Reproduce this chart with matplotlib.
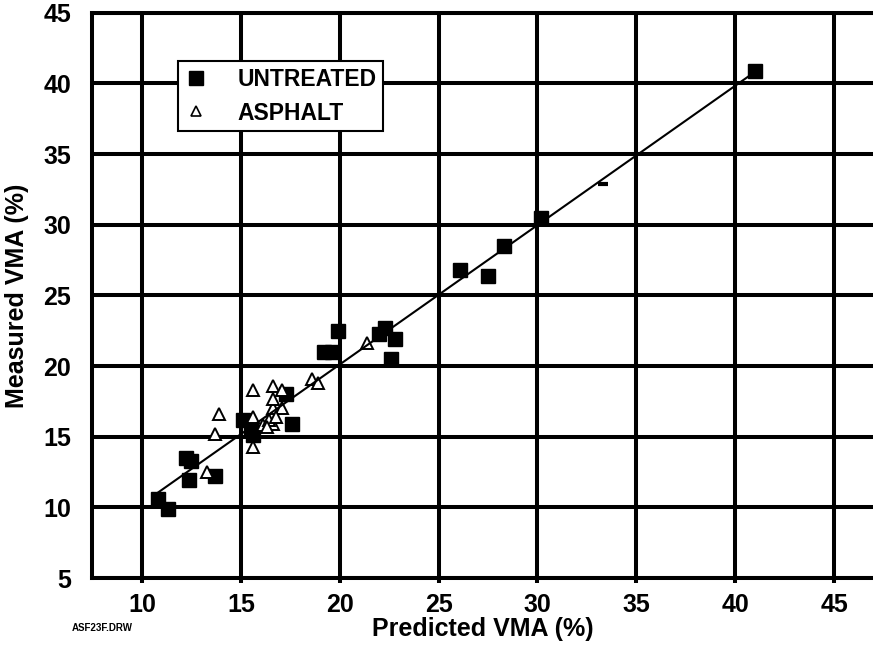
import matplotlib.pyplot as plt
from matplotlib.lines import Line2D

plt.rcParams["font.family"] = ["Liberation Sans", "DejaVu Sans"]
plt.rcParams["font.weight"] = "bold"

# untreated mixes: predicted vs measured VMA (%)
pred_untreated = [41.0, 30.2, 28.3, 26.1, 27.5, 22.0, 22.3, 22.8, 22.6, 19.9,
                  19.2, 19.6, 17.3, 17.6, 15.1, 15.5, 15.6, 12.2, 12.5, 12.4,
                  13.7, 10.8, 11.3]
meas_untreated = [40.9, 30.5, 28.5, 26.8, 26.4, 22.3, 22.7, 21.9, 20.5, 22.5,
                  21.0, 21.0, 18.0, 15.9, 16.2, 15.6, 15.1, 13.5, 13.3, 11.9,
                  12.2, 10.6, 9.9]

# asphalt treated mixes
pred_asphalt = [13.3, 13.7, 13.9, 15.6, 15.6, 15.6, 16.1, 16.6, 16.6, 17.1,
                16.6, 16.6, 17.1, 16.4, 16.8, 16.3, 18.6, 18.9, 21.4]
meas_asphalt = [12.5, 15.2, 16.6, 14.3, 16.4, 18.3, 15.8, 15.9, 17.0, 17.0,
                17.7, 18.6, 18.3, 16.2, 16.4, 15.7, 19.1, 18.8, 21.6]

# stray point near 33
pred_other = [33.3]
meas_other = [32.9]

# fitted line
fit_slope = 0.986
fit_intercept = 0.39

xticks = [10, 15, 20, 25, 30, 35, 40, 45]
yticks = [5, 10, 15, 20, 25, 30, 35, 40, 45]

fig = plt.figure(figsize=(8.73, 6.54), dpi=100)
ax = fig.add_axes([92 / 873, 1 - 578 / 654, 1 - 92 / 873, (578 - 12.7) / 654])

ax.set_xlim(7.47, 46.97)
ax.set_ylim(5, 45)
ax.set_xticks(xticks)
ax.set_yticks(yticks)
ax.grid(True, color="black", linewidth=2.9)
ax.set_axisbelow(True)

for side in ["left", "top", "bottom"]:
    ax.spines[side].set_linewidth(2.9)
ax.spines["right"].set_visible(False)

ax.tick_params(axis="x", length=3.5, width=2.9, pad=7, labelsize=18)
ax.tick_params(axis="y", length=0, pad=15, labelsize=18)
for lbl in ax.get_xticklabels() + ax.get_yticklabels():
    lbl.set_fontweight("bold")

ax.plot(pred_untreated, meas_untreated, "s", color="black", markersize=10.5,
        linestyle="none", zorder=3)
ax.plot(pred_asphalt, meas_asphalt, "^", markerfacecolor="white",
        markeredgecolor="black", markeredgewidth=1.4, markersize=8,
        linestyle="none", zorder=4)
ax.plot(pred_other, meas_other, "_", color="black", markersize=7,
        markeredgewidth=3, linestyle="none", zorder=4)

x0, x1 = min(pred_untreated), max(pred_untreated)
ax.plot([x0, x1], [fit_slope * x0 + fit_intercept, fit_slope * x1 + fit_intercept],
        color="black", linewidth=1.5, zorder=5)

ax.set_xlabel("Predicted VMA (%)", fontsize=18, fontweight="bold", labelpad=0)
ax.set_ylabel("Measured VMA (%)", fontsize=18, fontweight="bold", labelpad=10)

handles = [
    Line2D([], [], marker="s", color="black", linestyle="none", markersize=9.5),
    Line2D([], [], marker="^", markerfacecolor="white", markeredgecolor="black",
           markeredgewidth=1.2, linestyle="none", markersize=6.5),
]
leg = ax.legend(handles, ["UNTREATED", "ASPHALT"], loc="upper left",
                bbox_to_anchor=(0.110, 0.914), borderaxespad=0, fancybox=False,
                framealpha=1, edgecolor="black", prop={"size": 16.5, "weight": "bold"},
                handlelength=1.0, handletextpad=1.3, labelspacing=0.45,
                borderpad=0.3)
leg.get_frame().set_linewidth(1.5)
leg.set_zorder(6)

fig.text(72 / 873, 1 - 628 / 654, "ASF23F.DRW", fontsize=7, fontweight="bold",
         va="center", ha="left")

fig.savefig("out.png", dpi=100)
